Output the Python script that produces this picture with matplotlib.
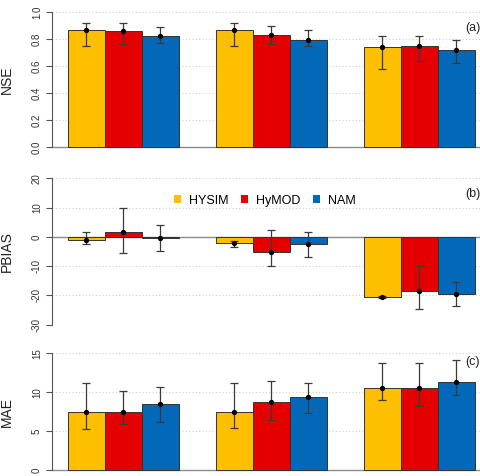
import matplotlib
matplotlib.use("Agg")
import matplotlib.pyplot as plt
import numpy as np

models = ["HYSIM", "HyMOD", "NAM"]
colors = ["#FDBF00", "#E50000", "#0468B8"]

# rows: model, cols: group (three cases)
nse_mean = [[0.87, 0.87, 0.74], [0.86, 0.83, 0.75], [0.82, 0.79, 0.72]]
nse_hi = [[0.92, 0.92, 0.82], [0.92, 0.90, 0.82], [0.89, 0.87, 0.79]]
nse_lo = [[0.75, 0.75, 0.58], [0.76, 0.76, 0.64], [0.77, 0.75, 0.62]]

pbias_mean = [[-1.2, -2.1, -20.6], [1.7, -5.2, -18.5], [-0.5, -2.6, -19.6]]
pbias_hi = [[1.5, -1.5, -20.3], [9.9, 2.5, -10.0], [4.0, 1.7, -15.5]]
pbias_lo = [[-2.5, -3.6, -20.9], [-5.4, -10.0, -24.5], [-4.7, -6.9, -23.5]]

mae_mean = [[7.5, 7.5, 10.55], [7.5, 8.7, 10.55], [8.5, 9.35, 11.3]]
mae_hi = [[11.2, 11.2, 13.7], [10.2, 11.4, 13.7], [10.7, 11.2, 14.1]]
mae_lo = [[5.3, 5.4, 9.0], [5.9, 6.5, 8.2], [6.2, 7.3, 9.65]]

panels = [
    ("NSE", nse_mean, nse_hi, nse_lo, [0.0, 0.2, 0.4, 0.6, 0.8, 1.0], ["0.0", "0.2", "0.4", "0.6", "0.8", "1.0"], "(a)", 0.88),
    ("PBIAS", pbias_mean, pbias_hi, pbias_lo, [-30, -20, -10, 0, 10, 20], ["-30", "-20", "-10", "0", "10", "20"], "(b)", 14.5),
    ("MAE", mae_mean, mae_hi, mae_lo, [0, 5, 10, 15], ["0", "5", "10", "15"], "(c)", 13.9),
]

plt.rcParams["font.family"] = ["Liberation Sans", "DejaVu Sans"]

W, H = 480, 476
fig = plt.figure(figsize=(W / 100, H / 100), dpi=100)

# pixel extents of each plot region (top, bottom)
regions = [(6.6, 152.4), (172.4, 330.6), (348.6, 475.0)]
left_px, right_px = 51.7, 491.0

for (name, mean, hi, lo, ticks, tlabels, tag, tag_y), (top, bot) in zip(panels, regions):
    ax = fig.add_axes([left_px / W, 1 - bot / H, (right_px - left_px) / W, (bot - top) / H])
    span = ticks[-1] - ticks[0]
    ax.set_ylim(ticks[0] - 0.04 * span, ticks[-1] + 0.04 * span)
    ax.set_xlim(0.56, 12.44)

    for t in ticks[1:]:
        ax.axhline(t, color="#CFCFCF", lw=0.8, ls=(0, (1, 2)), zorder=0)
    ax.axhline(0, color="#8C8C8C", lw=1.0, zorder=1)

    for k in range(3):
        xs = np.arange(3) * 4 + 1.5 + k
        m = np.array(mean[k])
        ax.bar(xs, m, width=1.0, color=colors[k], edgecolor="#333333", lw=0.7, zorder=2, label=models[k])
        yerr = np.vstack([m - np.array(lo[k]), np.array(hi[k]) - m])
        ax.errorbar(xs, m, yerr=yerr, fmt="o", color="black", ms=2.8, ecolor="#3A3A3A",
                    elinewidth=0.9, capsize=3, capthick=0.9, zorder=3)

    ax.set_yticks(ticks)
    ax.set_yticklabels(tlabels, rotation=90, va="center", fontsize=7, color="#333333")
    ax.tick_params(axis="y", length=4, width=0.8, color="#555555", pad=3)
    ax.set_xticks([])
    for s in ["top", "right", "bottom"]:
        ax.spines[s].set_visible(False)
    ax.spines["left"].set_bounds(ticks[0], ticks[-1])
    ax.spines["left"].set_color("#555555")
    ax.spines["left"].set_linewidth(0.8)
    ax.set_ylabel(name, fontsize=10, labelpad=6, color="#222222")
    ax.yaxis.set_label_coords(-0.085, 0.5)
    ax.text(11.74, tag_y, tag, fontsize=9, va="center", ha="left", color="#222222")

    if name == "PBIAS":
        leg = ax.legend(loc="upper center", bbox_to_anchor=(0.485, 0.93), ncol=3, frameon=False,
                        fontsize=9, handlelength=0.6, handleheight=0.6, handletextpad=0.6,
                        columnspacing=1.0)
        for h in leg.legend_handles:
            h.set_edgecolor("none")

fig.savefig("out.png", dpi=100)
